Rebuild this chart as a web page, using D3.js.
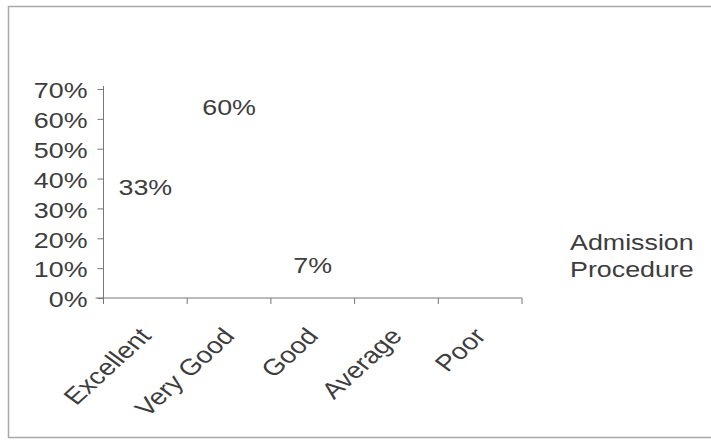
<!DOCTYPE html>
<html><head><meta charset="utf-8">
<script src="https://cdn.jsdelivr.net/npm/d3@7"></script>
<style>
html,body{margin:0;padding:0;background:#fff;}
text{font-family:"Liberation Sans",Arial,sans-serif;fill:#3d3d3d;}
</style></head>
<body>
<svg id="chart" width="711" height="443"></svg>
<script>
const categories = ["Excellent","Very Good","Good","Average","Poor"];
const values = [33, 60, 7, 0, 0];
const valueLabels = ["33%","60%","7%","",""];
const yTicks = [0,10,20,30,40,50,60,70];
const seriesName = ["Admission","Procedure"];

(function(){
const SX = 1.22; // horizontal stretch of the scanned original
const svg = d3.select("#chart");
svg.append("rect").attr("x",8.5).attr("y",6.5).attr("width",720).attr("height",431)
  .attr("fill","#fff").attr("stroke","#a8a8a8").attr("stroke-width",1.5);

const pl = 103.5, pr = 522, pt = 89, pb = 298;
const x = d3.scaleBand().domain(categories).range([pl,pr]).padding(0.35);
const xb = d3.scaleBand().domain(categories).range([pl,pr]);
const y = d3.scaleLinear().domain([0,70]).range([pb,pt]);

// bars (white like reference)
svg.selectAll("rect.bar").data(values).join("rect").attr("class","bar")
  .attr("x",(d,i)=>x(categories[i])).attr("width",x.bandwidth())
  .attr("y",d=>y(d)).attr("height",d=>pb-y(d))
  .attr("fill","#fff");

// y axis
const yAxis = d3.axisLeft(y).tickValues(yTicks).tickFormat(d=>d+"%").tickSize(6).tickPadding(10);
const gy = svg.append("g").attr("transform",`translate(${pl},0)`).call(yAxis);
gy.select(".domain").attr("stroke","#777").attr("d",`M0,${pt-3}V${pb}`);
gy.selectAll(".tick line").attr("stroke","#777");
gy.selectAll(".tick text").attr("font-size",22).attr("fill","#3d3d3d")
  .style("font-family","Liberation Sans, Arial, sans-serif")
  .attr("x",-16/SX).attr("dy","0.4em").attr("transform",`scale(${SX},1)`);

// x axis
const xAxis = d3.axisBottom(xb).tickSize(0).tickFormat("");
const gx = svg.append("g").attr("transform",`translate(0,${pb})`).call(xAxis);
gx.select(".domain").attr("stroke","#777").attr("d",`M${pl-8},0H${pr}`);
gx.selectAll(".tick").remove();
const boundaries = categories.map(c=>xb(c)).concat([pr]);
gx.selectAll("line.bt").data(boundaries).join("line").attr("class","bt")
  .attr("x1",d=>d).attr("x2",d=>d).attr("y1",0).attr("y2",6).attr("stroke","#777");

// x labels rotated
svg.selectAll("text.xl").data(categories).join("text").attr("class","xl")
  .attr("transform",d=>`translate(${xb(d)+xb.bandwidth()/2+7},${pb+39}) scale(${SX},1) rotate(-48)`)
  .attr("text-anchor","end").attr("font-size",23).text(d=>d);

// value labels
svg.selectAll("text.vl").data(values).join("text").attr("class","vl")
  .attr("transform",(d,i)=>`translate(${xb(categories[i])+xb.bandwidth()/2},${y(d)-4}) scale(${SX},1)`)
  .attr("text-anchor","middle").attr("font-size",22)
  .text((d,i)=>valueLabels[i]);

// legend
svg.selectAll("text.lg").data(seriesName).join("text").attr("class","lg")
  .attr("transform",(d,i)=>`translate(570,${250+i*26.5}) scale(${SX},1)`)
  .attr("font-size",22).text(d=>d);
})();
</script>
</body></html>
